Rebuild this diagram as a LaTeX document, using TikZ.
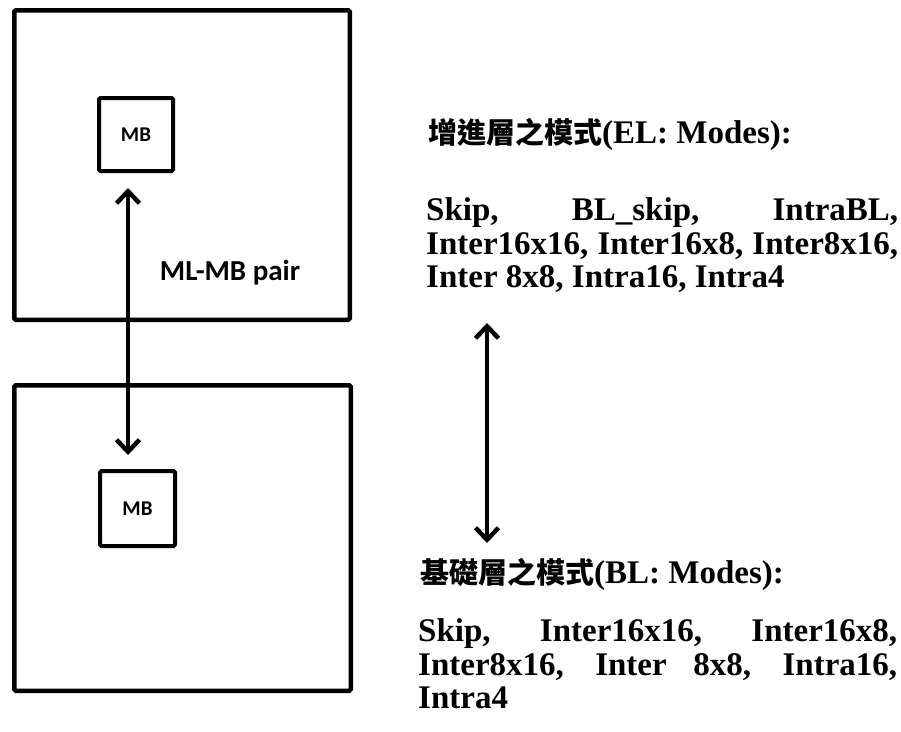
\documentclass[tikz,border=0pt]{standalone}
\usepackage{fontspec}
\setmainfont{Liberation Serif}
\newfontfamily\cjk{Noto Sans CJK TC}
\newfontfamily\calibri{Carlito}
\usetikzlibrary{arrows.meta}

\tikzset{
    frame/.style={draw, line width=4.5pt, rounded corners=1.5pt, inner sep=0pt},
    mbbox/.style={draw, line width=4pt, rounded corners=1.5pt, inner sep=0pt,
        font=\calibri\bfseries\fontsize{21}{21}\selectfont},
    barb/.tip={Straight Barb[length=12pt, width=23pt]},
    pairarrow/.style={line width=4.5pt, barb-barb},
    modehead/.style={anchor=base west, inner sep=0pt, font=\bfseries\fontsize{33}{33.5}\selectfont},
    modes/.style={anchor=north west, inner sep=0pt, align=justify,
        font=\bfseries\fontsize{33}{33.5}\selectfont},
}
\newcommand{\hanzi}[1]{{\cjk\bfseries\fontsize{29}{29}\selectfont #1}}

\begin{document}
\begin{tikzpicture}[x=1pt, y=-1pt]
        \useasboundingbox (0, 0) rectangle (901, 731);

        % enhancement layer picture and base layer picture
        \node[frame, minimum width=335.5pt, minimum height=309.5pt] (elframe) at (182, 165) {};
        \node[frame, minimum width=336.5pt, minimum height=305.5pt] (blframe) at (182.5, 538) {};

        \node[mbbox, minimum width=74pt, minimum height=73pt] (elmb) at (136, 134.5) {MB};
        \node[mbbox, minimum width=75pt, minimum height=75pt] (blmb) at (137.5, 508.5) {MB};

        \coordinate (pairtop) at (128, 188);
        \coordinate (pairbot) at (128, 455);
        \draw[pairarrow] (pairtop) -- (pairbot);
        \node[font=\calibri\bfseries\fontsize{29}{29}\selectfont] (pairlabel) at (230, 273) {ML-MB pair};

        % mode lists
        \node[modehead] (elhead) at (428, 143) { \hanzi{增進層之模式}(EL: Modes): };
        \node[modes, text width=472pt] (elmodes) at (426, 197.5)
            { Skip, BL\_skip, IntraBL,\linebreak Inter16x16, Inter16x8, Inter8x16,\linebreak Inter 8x8, Intra16, Intra4 };

        \node[modehead] (blhead) at (420, 583) { \hanzi{基礎層之模式}(BL: Modes): };
        \node[modes, text width=479pt] (blmodes) at (418, 618.5)
            { Skip, Inter16x16, Inter16x8,\linebreak Inter8x16, Inter 8x8, Intra16,\linebreak Intra4 };

        \coordinate (modetop) at (487, 323);
        \coordinate (modebot) at (487, 543);
        \draw[pairarrow] (modetop) -- (modebot);

    \end{tikzpicture}
\end{document}
